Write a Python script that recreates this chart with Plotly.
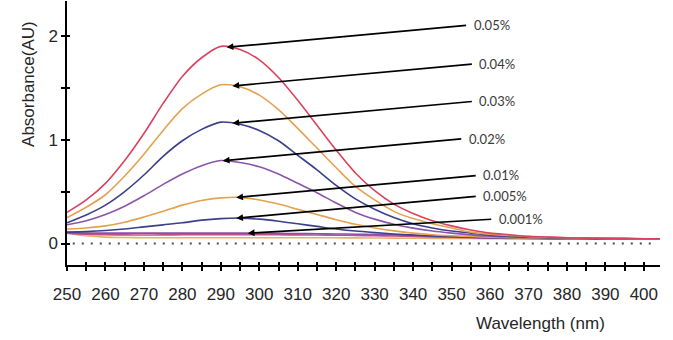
import numpy as np
import plotly.graph_objects as go

# Wavelength grid (nm)
wavelength_nm = [250, 255, 260, 265, 270, 275, 280, 285, 290, 295, 300, 305, 310, 315, 320, 325,
                 330, 335, 340, 345, 350, 355, 360, 365, 370, 375, 380, 385, 390, 395, 400, 405]

# Absorbance spectra (AU) for each concentration
abs_0_05 = [0.30, 0.42, 0.58, 0.80, 1.06, 1.35, 1.61, 1.79, 1.90, 1.87, 1.77, 1.60, 1.38, 1.14, 0.90, 0.68,
            0.51, 0.38, 0.29, 0.22, 0.17, 0.13, 0.10, 0.085, 0.07, 0.062, 0.056, 0.052, 0.05, 0.048, 0.046, 0.046]
abs_0_04 = [0.25, 0.35, 0.47, 0.65, 0.86, 1.09, 1.30, 1.44, 1.53, 1.51, 1.43, 1.29, 1.11, 0.92, 0.73, 0.55,
            0.42, 0.31, 0.24, 0.19, 0.15, 0.11, 0.09, 0.078, 0.066, 0.06, 0.055, 0.052, 0.05, 0.048, 0.046, 0.046]
abs_0_03 = [0.20, 0.275, 0.37, 0.50, 0.66, 0.84, 0.99, 1.10, 1.17, 1.15, 1.09, 0.99, 0.85, 0.71, 0.56, 0.43,
            0.33, 0.25, 0.19, 0.15, 0.12, 0.10, 0.08, 0.07, 0.062, 0.057, 0.054, 0.051, 0.049, 0.047, 0.046, 0.046]
abs_0_02 = [0.18, 0.22, 0.28, 0.36, 0.46, 0.57, 0.67, 0.75, 0.80, 0.78, 0.74, 0.67, 0.58, 0.49, 0.39, 0.30,
            0.235, 0.185, 0.148, 0.12, 0.10, 0.083, 0.071, 0.064, 0.058, 0.055, 0.052, 0.05, 0.048, 0.047, 0.046, 0.046]
abs_0_01 = [0.14, 0.15, 0.17, 0.205, 0.255, 0.31, 0.37, 0.415, 0.44, 0.445, 0.42, 0.38, 0.33, 0.28, 0.23, 0.185,
            0.15, 0.122, 0.10, 0.085, 0.075, 0.067, 0.06, 0.056, 0.053, 0.051, 0.05, 0.049, 0.048, 0.047, 0.046, 0.046]
abs_0_005 = [0.11, 0.115, 0.125, 0.14, 0.16, 0.18, 0.20, 0.225, 0.24, 0.245, 0.235, 0.215, 0.19, 0.165, 0.14, 0.12,
             0.105, 0.092, 0.082, 0.074, 0.067, 0.061, 0.057, 0.054, 0.051, 0.05, 0.049, 0.048, 0.047, 0.046, 0.046, 0.046]
abs_0_001 = [0.105, 0.10, 0.10, 0.10, 0.10, 0.10, 0.10, 0.10, 0.10, 0.10, 0.10, 0.098, 0.096, 0.094, 0.092, 0.09,
             0.087, 0.083, 0.078, 0.072, 0.066, 0.06, 0.056, 0.053, 0.05, 0.048, 0.046, 0.046, 0.045, 0.045, 0.045, 0.045]
# Reference (blank) runs near the baseline
abs_blank_a = [0.10, 0.09, 0.085, 0.083, 0.082, 0.083, 0.084, 0.085, 0.085, 0.085, 0.085, 0.084, 0.083, 0.082, 0.08, 0.078,
               0.075, 0.072, 0.068, 0.064, 0.06, 0.056, 0.053, 0.05, 0.048, 0.047, 0.046, 0.045, 0.045, 0.045, 0.045, 0.045]
abs_blank_b = [0.10, 0.075, 0.062, 0.058, 0.056, 0.055, 0.055, 0.055, 0.055, 0.055, 0.055, 0.055, 0.055, 0.055, 0.055, 0.054,
               0.053, 0.052, 0.051, 0.05, 0.049, 0.048, 0.047, 0.047, 0.046, 0.046, 0.045, 0.045, 0.045, 0.045, 0.045, 0.045]

concentration_labels = ["0.05%", "0.04%", "0.03%", "0.02%", "0.01%", "0.005%", "0.001%"]
concentration_series = [abs_0_05, abs_0_04, abs_0_03, abs_0_02, abs_0_01, abs_0_005, abs_0_001]
concentration_colors = ["#d8435f", "#e3a24f", "#3b3f8c", "#8c55ad", "#e3a24f", "#3b3f8c", "#8c4fa8"]
blank_series = [abs_blank_b, abs_blank_a]
blank_colors = ["#e8b06a", "#c2508a"]

# Wavelength each label's arrow points at, and the label offset from that point (px)
arrow_target_nm = [291.5, 293.0, 293.0, 290.5, 294.0, 294.0, 297.0]
label_offset_px = [(241, -22), (241, -22), (241, -22), (240, -22), (241, -22), (241, -22), (245, -14)]

x_tick_vals = [250, 255, 260, 265, 270, 275, 280, 285, 290, 295, 300, 305, 310, 315, 320, 325,
               330, 335, 340, 345, 350, 355, 360, 365, 370, 375, 380, 385, 390, 395, 400]
x_tick_text = ["250", "", "260", "", "270", "", "280", "", "290", "", "300", "", "310", "", "320", "",
               "330", "", "340", "", "350", "", "360", "", "370", "", "380", "", "390", "", "400"]
y_tick_vals = [0, 0.5, 1, 1.5, 2]
y_tick_text = ["0", "", "1", "", "2"]

X_RANGE = [250, 404.2]
Y_RANGE = [-0.207, 2.337]
ZERO_LINE_END = 402.5

AXIS_FONT = dict(family="Liberation Sans, Arial, sans-serif", size=17, color="#262626")
LABEL_FONT = dict(family="Lato, Noto Sans, sans-serif", size=13, color="#3a3a3a")

fig = go.Figure()

# dotted zero reference on the overlay axes (also gives them their tick marks)
fig.add_trace(go.Scatter(
    x=[wavelength_nm[0] + 1.5, ZERO_LINE_END], y=[0, 0], mode="lines",
    line=dict(color="#4d4d4d", width=2, dash="2px,7px"),
    xaxis="x2", yaxis="y2", hoverinfo="skip", showlegend=False,
))

for vals, color in zip(blank_series, blank_colors):
    fig.add_trace(go.Scatter(
        x=wavelength_nm, y=vals, mode="lines",
        line=dict(color=color, width=1.6, shape="spline", smoothing=0.8),
        hoverinfo="skip", showlegend=False,
    ))

for vals, color, name in reversed(list(zip(concentration_series, concentration_colors, concentration_labels))):
    fig.add_trace(go.Scatter(
        x=wavelength_nm, y=vals, mode="lines", name=name,
        line=dict(color=color, width=1.6, shape="spline", smoothing=0.8),
        hoverinfo="skip", showlegend=False,
    ))

annotations = []
for vals, name, target, (dx, dy) in zip(concentration_series, concentration_labels,
                                        arrow_target_nm, label_offset_px):
    ty = float(np.interp(target, wavelength_nm, vals))
    annotations.append(dict(
        x=target, y=ty, xref="x", yref="y", text="", showarrow=True,
        ax=dx, ay=dy, arrowhead=2, arrowsize=0.8, arrowwidth=1.7, arrowcolor="#000000",
    ))
    annotations.append(dict(
        x=target, y=ty, xref="x", yref="y", text=name, showarrow=False,
        xanchor="left", yanchor="middle", xshift=dx + 4, yshift=-dy, font=LABEL_FONT,
    ))

annotations.append(dict(
    x=-0.064, y=0.686, xref="paper", yref="paper", text="Absorbance(AU)", showarrow=False,
    textangle=-90, xanchor="center", yanchor="middle", font=AXIS_FONT,
))
annotations.append(dict(
    x=0.798, y=-0.22, xref="paper", yref="paper", text="Wavelength (nm)", showarrow=False,
    xanchor="center", yanchor="middle", font=AXIS_FONT,
))

common_x = dict(range=X_RANGE, tickvals=x_tick_vals, showgrid=False, zeroline=False)
common_y = dict(range=Y_RANGE, tickvals=y_tick_vals, showgrid=False, zeroline=False)

fig.update_layout(
    width=673, height=340, autosize=False,
    margin=dict(l=67, r=13, t=1, b=75, pad=0),
    paper_bgcolor="white", plot_bgcolor="white",
    xaxis=dict(**common_x, ticktext=x_tick_text, showline=True, linecolor="#000000", linewidth=1.5,
               ticks="outside", ticklen=4, tickwidth=1.5, tickcolor="#000000",
               tickfont=AXIS_FONT, ticklabelstandoff=9),
    yaxis=dict(**common_y, ticktext=y_tick_text, showline=True, linecolor="#000000", linewidth=1.5,
               ticks="outside", ticklen=4, tickwidth=1.5, tickcolor="#000000",
               tickfont=AXIS_FONT),
    xaxis2=dict(**common_x, overlaying="x", matches="x", anchor="y", side="bottom",
                ticks="inside", ticklen=3, tickwidth=1.5, tickcolor="#000000",
                showticklabels=False, showline=False),
    yaxis2=dict(**common_y, overlaying="y", matches="y", anchor="x", side="left",
                ticks="inside", ticklen=3, tickwidth=1.5, tickcolor="#000000",
                showticklabels=False, showline=False),
    annotations=annotations,
    showlegend=False,
)

fig.write_html("out.html")
